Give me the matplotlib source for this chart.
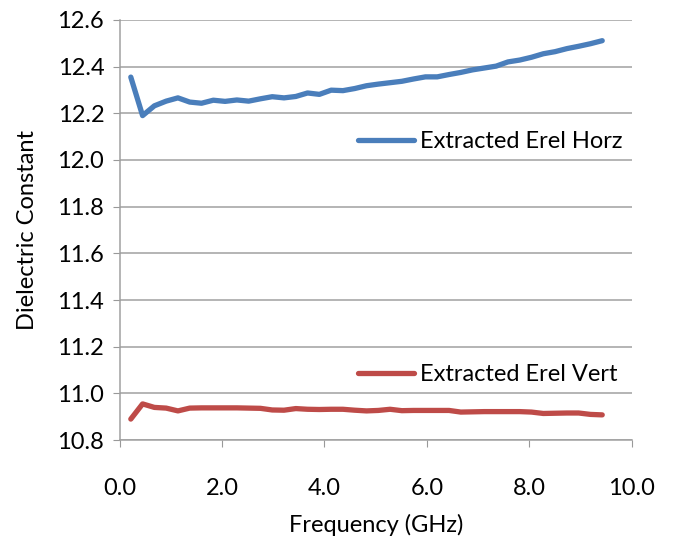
import matplotlib
matplotlib.use("Agg")
import matplotlib.pyplot as plt

# frequency points (GHz)
freq = [0.22, 0.45, 0.68, 0.91, 1.14, 1.37, 1.60, 1.83, 2.06, 2.29,
        2.52, 2.75, 2.98, 3.21, 3.44, 3.67, 3.90, 4.13, 4.36, 4.59,
        4.82, 5.05, 5.28, 5.51, 5.74, 5.97, 6.20, 6.43, 6.66, 6.89,
        7.12, 7.35, 7.58, 7.81, 8.04, 8.27, 8.50, 8.73, 8.96, 9.19, 9.42]

erel_horz = [12.355, 12.190, 12.232, 12.252, 12.266, 12.248, 12.243, 12.256, 12.251, 12.257,
             12.252, 12.262, 12.271, 12.266, 12.272, 12.287, 12.281, 12.299, 12.297, 12.306,
             12.318, 12.325, 12.331, 12.337, 12.347, 12.356, 12.356, 12.366, 12.375, 12.386,
             12.394, 12.402, 12.420, 12.428, 12.440, 12.455, 12.464, 12.477, 12.487, 12.498, 12.511]

erel_vert = [10.890, 10.955, 10.940, 10.937, 10.925, 10.937, 10.938, 10.938, 10.938, 10.938,
             10.937, 10.936, 10.929, 10.928, 10.935, 10.932, 10.931, 10.932, 10.932, 10.928,
             10.925, 10.927, 10.932, 10.926, 10.927, 10.927, 10.927, 10.927, 10.920, 10.921,
             10.922, 10.922, 10.922, 10.922, 10.920, 10.914, 10.915, 10.916, 10.916, 10.910, 10.908]

x_ticks = [0, 2, 4, 6, 8, 10]
y_ticks = [10.8, 11.0, 11.2, 11.4, 11.6, 11.8, 12.0, 12.2, 12.4, 12.6]

plt.rcParams['font.family'] = ['Lato', 'DejaVu Sans']
fs = 17

fig = plt.figure(figsize=(6.73, 5.38), dpi=100)
ax = fig.add_axes([0.1776, 0.182, 0.7614, 0.781])

blue_line, = ax.plot(freq, erel_horz, color='#4A7EBB', lw=3.8, solid_capstyle='round',
                     label='Extracted Erel Horz', zorder=3)
red_line, = ax.plot(freq, erel_vert, color='#BE4B48', lw=3.8, solid_capstyle='round',
                    label='Extracted Erel Vert', zorder=3)

ax.set_xlim(0, 10)
ax.set_ylim(10.8, 12.6)
ax.set_xticks(x_ticks)
ax.set_xticklabels([f"{t:.1f}" for t in x_ticks], fontsize=fs)
ax.set_yticks(y_ticks)
ax.set_yticklabels([f"{t:.1f}" for t in y_ticks], fontsize=fs)
ax.tick_params(axis='both', direction='out', length=5, color='#999999')
ax.tick_params(axis='x', pad=22)
ax.tick_params(axis='y', pad=6)
ax.yaxis.grid(True, color='#A0A0A0', lw=1.1)
ax.set_axisbelow(True)
for s in ['top', 'right']:
    ax.spines[s].set_visible(False)
for s in ['left', 'bottom']:
    ax.spines[s].set_color('#A0A0A0')
    ax.spines[s].set_linewidth(1.1)

ax.set_xlabel('Frequency (GHz)', fontsize=fs, labelpad=11)
ax.set_ylabel('Dielectric Constant', fontsize=fs, labelpad=14)

leg1 = ax.legend(handles=[blue_line], loc='center left', bbox_to_anchor=(0.465, 0.71),
                 frameon=False, fontsize=fs, handlelength=2.4, handletextpad=0.25,
                 borderpad=0, borderaxespad=0)
ax.add_artist(leg1)
ax.legend(handles=[red_line], loc='center left', bbox_to_anchor=(0.465, 0.155),
          frameon=False, fontsize=fs, handlelength=2.4, handletextpad=0.25,
          borderpad=0, borderaxespad=0)

fig.savefig('out.png', dpi=100)
